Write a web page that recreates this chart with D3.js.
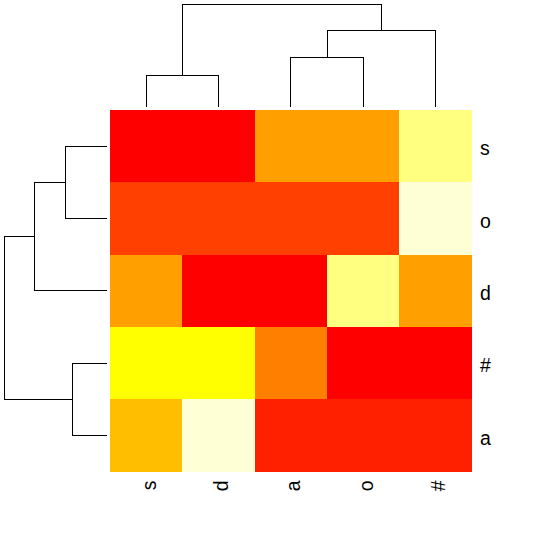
<!DOCTYPE html>
<html>
<head>
<meta charset="utf-8">
<script src="https://cdn.jsdelivr.net/npm/d3@7"></script>
<style>
  body { margin: 0; background: #fff; }
  text { font-family: "Liberation Sans", Arial, sans-serif; font-size: 19.5px; fill: #000; }
</style>
</head>
<body>
<div id="chart"></div>
<script>
// Row and column order as drawn (after clustering)
const rowLabels = ['s', 'o', 'd', '#', 'a'];
const colLabels = ['s', 'd', 'a', 'o', '#'];

// Cell values, one array per row (top to bottom), columns in colLabels order
const rowS = [0, 0, 5, 5, 10];
const rowO = [2, 2, 2, 2, 11];
const rowD = [5, 0, 0, 10, 5];
const rowHash = [8, 8, 4, 0, 0];
const rowA = [6, 11, 1, 1, 1];
const values = [rowS, rowO, rowD, rowHash, rowA];

// heat.colors(12)
const heatColors = ['#FF0000', '#FF2000', '#FF4000', '#FF6000', '#FF8000', '#FF9F00',
  '#FFBF00', '#FFDF00', '#FFFF00', '#FFFF2A', '#FFFF80', '#FFFFD5'];

// Dendrograms: merge heights relative to the root
const colTree = { h: 1.0, children: [
  { h: 0.303, children: ['s', 'd'] },
  { h: 0.746, children: [{ h: 0.482, children: ['a', 'o'] }, '#'] }
] };
const rowTree = { h: 1.0, children: [
  { h: 0.707, children: [{ h: 0.404, children: ['s', 'o'] }, 'd'] },
  { h: 0.336, children: ['#', 'a'] }
] };

const width = 553, height = 552;
const svg = d3.select('#chart').append('svg')
  .attr('width', width)
  .attr('height', height);

const x = d3.scaleBand().domain(colLabels).range([110, 471.8]);
const y = d3.scaleBand().domain(rowLabels).range([110, 471.8]);
const color = d3.scaleQuantize().domain([0, 11]).range(heatColors);

// Heatmap cells
const cells = [];
values.forEach((row, i) => {
  row.forEach((v, j) => cells.push({ r: rowLabels[i], c: colLabels[j], v }));
});
svg.append('g').selectAll('rect')
  .data(cells)
  .join('rect')
    .attr('x', d => x(d.c))
    .attr('y', d => y(d.r))
    .attr('width', x.bandwidth() + 0.5)
    .attr('height', y.bandwidth() + 0.5)
    .attr('fill', d => color(d.v))
    .attr('shape-rendering', 'crispEdges');

// Dendrogram drawing; pos = leaf position scale, hs = height scale, top = column tree
function drawTree(g, tree, pos, hs, top) {
  const pt = (p, h) => top ? [p, hs(h)] : [hs(h), p];
  function walk(node) {
    if (typeof node === 'string') return { p: pos(node) + pos.bandwidth() / 2, h: 0 };
    const kids = node.children.map(walk);
    const a = kids[0], b = kids[1];
    g.append('path')
      .attr('d', d3.line()([pt(a.p, a.h), pt(a.p, node.h), pt(b.p, node.h), pt(b.p, b.h)]))
      .attr('fill', 'none')
      .attr('stroke', '#000')
      .attr('stroke-width', 1)
      .attr('shape-rendering', 'crispEdges');
    return { p: (a.p + b.p) / 2, h: node.h };
  }
  walk(tree);
}

const colH = d3.scaleLinear().domain([0, 1]).range([106.7, 4.3]);
const rowH = d3.scaleLinear().domain([0, 1]).range([106.7, 4.3]);
drawTree(svg.append('g'), colTree, x, colH, true);
drawTree(svg.append('g'), rowTree, y, rowH, false);

// Row labels
svg.append('g').selectAll('text')
  .data(rowLabels)
  .join('text')
    .attr('x', 480)
    .attr('y', d => y(d) + y.bandwidth() / 2)
    .attr('dy', 2)
    .attr('dominant-baseline', 'central')
    .text(d => d);

// Column labels, rotated
svg.append('g').selectAll('text')
  .data(colLabels)
  .join('text')
    .attr('transform', d => `translate(${x(d) + x.bandwidth() / 2},480.5) rotate(-90)`)
    .attr('dy', 2.5)
    .attr('text-anchor', 'end')
    .attr('dominant-baseline', 'central')
    .text(d => d);
</script>
</body>
</html>
